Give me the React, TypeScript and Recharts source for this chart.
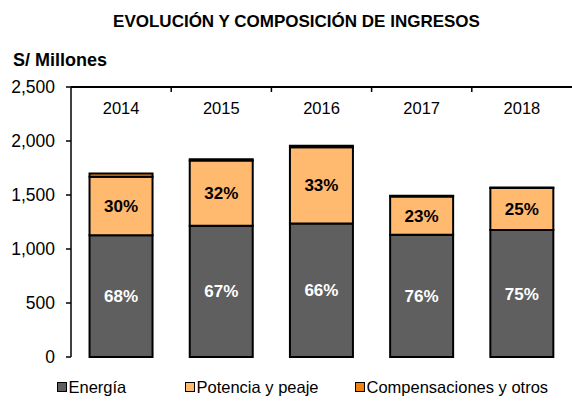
import React from 'react'
import { BarChart, Bar, XAxis, YAxis, LabelList } from 'recharts'

const years = ['2014', '2015', '2016', '2017', '2018']
const energia = [1128, 1215, 1237, 1132, 1175]
const potencia = [540, 605, 705, 354, 389]
const compensaciones = [30, 12, 14, 6, 6]
const energiaPct = ['68%', '67%', '66%', '76%', '75%']
const potenciaPct = ['30%', '32%', '33%', '23%', '25%']
const yTicks = [0, 500, 1000, 1500, 2000, 2500]

const data = years.map((year, i) => ({
    year,
    energia: energia[i],
    potencia: potencia[i],
    compensaciones: compensaciones[i],
    energiaPct: energiaPct[i],
    potenciaPct: potenciaPct[i],
}))

const FONT = '"Liberation Sans", Arial, sans-serif'

const legendItems = [
    { name: 'Energía', color: '#5f5f5f', width: 128 },
    { name: 'Potencia y peaje', color: '#ffba70', width: 170 },
    { name: 'Compensaciones y otros', color: '#f0820f', width: 220 },
]

// year label sits under the top axis line, small marks go on category borders
const YearTick = (props: any) => {
    const { x, y, payload, index } = props
    const half = payload.offset || 0
    return (
        <g>
            {index > 0 && <line x1={x - half} x2={x - half} y1={y} y2={y + 5} stroke='#000' strokeWidth={1.5} />}
            <text x={x} y={y + 21} textAnchor='middle' dominantBaseline='central' fontSize={16.5} fontFamily={FONT} fill='#000'>
                {payload.value}
            </text>
        </g>
    )
}

const ChartLegend = () => (
    <div style={{ position: 'absolute', top: 377, left: 57, display: 'flex', fontSize: 16.5, lineHeight: '20px', color: '#000' }}>
        {legendItems.map((item) => (
            <div key={item.name} style={{ display: 'flex', alignItems: 'center', width: item.width }}>
                <span style={{ display: 'inline-block', width: 7.5, height: 7.5, background: item.color, border: '1.5px solid #000', marginRight: 2 }} />
                <span>{item.name}</span>
            </div>
        ))}
    </div>
)

const App = () => {
    return (
        <div style={{ position: 'relative', width: 572, height: 412, background: '#fff', fontFamily: FONT }}>
            <style>{'body{margin:0}'}</style>
            <div style={{ position: 'absolute', left: 0, width: 593, top: 13, textAlign: 'center', fontSize: 17, fontWeight: 'bold', lineHeight: 1 }}>
                EVOLUCIÓN Y COMPOSICIÓN DE INGRESOS
            </div>
            <div style={{ position: 'absolute', left: 13, top: 51, fontSize: 18, fontWeight: 'bold', lineHeight: 1 }}>
                S/ Millones
            </div>
            <BarChart
                width={572}
                height={412}
                data={data}
                margin={{ top: 67, right: 0, left: 0, bottom: 55 }}
                barCategoryGap='18.5%'
            >
                <XAxis
                    dataKey='year'
                    orientation='top'
                    height={20}
                    stroke='#000'
                    strokeWidth={2}
                    tickSize={0}
                    tickMargin={0}
                    tickLine={false}
                    tick={<YearTick />}
                    interval={0}
                />
                <YAxis
                    width={71}
                    domain={[0, 2500]}
                    ticks={yTicks}
                    stroke='#000'
                    strokeWidth={1.5}
                    tickSize={5}
                    tickMargin={11}
                    tick={{ fill: '#000', fontSize: 17.5, fontFamily: FONT }}
                    tickFormatter={(v: number) => v.toLocaleString('en-US')}
                />
                <Bar dataKey='energia' name='Energía' stackId='a' fill='#5f5f5f' stroke='#000' strokeWidth={2} isAnimationActive={false}>
                    <LabelList dataKey='energiaPct' position='center' fill='#fff' stroke='none' fontSize={17} fontWeight='bold' fontFamily={FONT} />
                </Bar>
                <Bar dataKey='potencia' name='Potencia y peaje' stackId='a' fill='#ffba70' stroke='#000' strokeWidth={2} isAnimationActive={false}>
                    <LabelList dataKey='potenciaPct' position='center' fill='#000' stroke='none' fontSize={17} fontWeight='bold' fontFamily={FONT} />
                </Bar>
                <Bar dataKey='compensaciones' name='Compensaciones y otros' stackId='a' fill='#f0820f' stroke='#000' strokeWidth={2} isAnimationActive={false} />
            </BarChart>
            <ChartLegend />
        </div>
    )
}

export default App
